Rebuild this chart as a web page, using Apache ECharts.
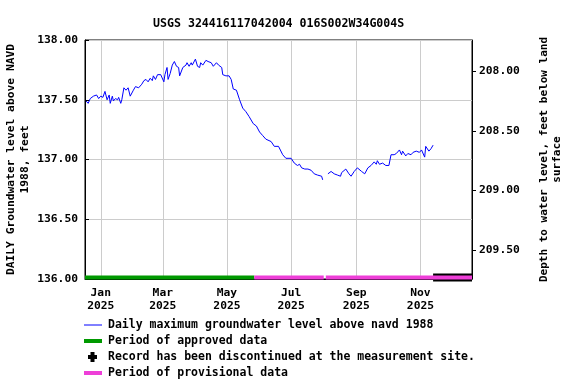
<!DOCTYPE html>
<html>
<head>
<meta charset="utf-8">
<script src="https://cdn.jsdelivr.net/npm/echarts@6.0.0/dist/echarts.min.js"></script>
<style>
  html, body { margin: 0; padding: 0; background: #fff; }
  #chart { width: 576px; height: 384px; }
</style>
</head>
<body>
<div id="chart"></div>
<script>
const FONT = 'DejaVu Sans Mono';
const titleText = 'USGS 324416117042004 016S002W34G004S';

// x range and tick labels
const xMin = '2024-12-17';
const xMax = '2025-12-20';
const monthTicks = ['2025-01-01', '2025-03-01', '2025-05-01', '2025-07-01', '2025-09-01', '2025-11-01'];
const monthLabels = ['Jan\n2025', 'Mar\n2025', 'May\n2025', 'Jul\n2025', 'Sep\n2025', 'Nov\n2025'];

// left axis: level above NAVD 1988, right axis: depth below land surface
const levelMin = 136, levelMax = 138, levelStep = 0.5;
const landSurface = 345.74; // depth = landSurface - level
const depthTicks = [208, 208.5, 209, 209.5];

// daily maximum groundwater level
const dates = [
  '2024-12-18', '2024-12-20', '2024-12-22', '2024-12-25', '2024-12-28', '2024-12-30',
  '2025-01-01', '2025-01-03', '2025-01-05', '2025-01-07', '2025-01-09', '2025-01-10', '2025-01-12', '2025-01-13', '2025-01-15',
  '2025-01-17', '2025-01-18', '2025-01-20', '2025-01-21', '2025-01-23', '2025-01-25', '2025-01-27', '2025-01-29',
  '2025-02-01', '2025-02-03', '2025-02-06', '2025-02-09', '2025-02-11', '2025-02-13', '2025-02-15', '2025-02-17',
  '2025-02-19', '2025-02-20', '2025-02-22', '2025-02-24', '2025-02-27', '2025-02-28',
  '2025-03-02', '2025-03-03', '2025-03-05', '2025-03-06', '2025-03-08', '2025-03-10', '2025-03-12', '2025-03-14',
  '2025-03-16', '2025-03-17', '2025-03-20', '2025-03-23', '2025-03-24', '2025-03-26', '2025-03-28', '2025-03-29',
  '2025-04-01', '2025-04-03', '2025-04-05', '2025-04-06', '2025-04-08', '2025-04-11', '2025-04-13', '2025-04-16',
  '2025-04-18', '2025-04-21', '2025-04-23', '2025-04-26', '2025-04-27', '2025-04-30',
  '2025-05-03', '2025-05-05', '2025-05-07', '2025-05-10', '2025-05-13', '2025-05-16', '2025-05-19', '2025-05-22', '2025-05-26', '2025-05-29',
  '2025-06-01', '2025-06-04', '2025-06-07', '2025-06-12', '2025-06-15', '2025-06-19', '2025-06-23', '2025-06-26',
  '2025-07-01', '2025-07-04', '2025-07-07', '2025-07-09', '2025-07-11', '2025-07-14', '2025-07-17', '2025-07-20',
  '2025-07-23', '2025-07-26', '2025-07-30', '2025-07-31',
  '2025-08-02', '2025-08-05', '2025-08-08', '2025-08-11', '2025-08-14', '2025-08-17', '2025-08-18', '2025-08-22',
  '2025-08-25', '2025-08-27', '2025-08-30',
  '2025-09-02', '2025-09-06', '2025-09-09', '2025-09-12', '2025-09-15', '2025-09-18', '2025-09-20', '2025-09-21',
  '2025-09-23', '2025-09-26', '2025-09-29',
  '2025-10-02', '2025-10-04', '2025-10-07', '2025-10-09', '2025-10-12', '2025-10-14', '2025-10-15', '2025-10-18',
  '2025-10-20', '2025-10-23', '2025-10-25', '2025-10-28', '2025-10-31',
  '2025-11-02', '2025-11-05', '2025-11-06', '2025-11-09', '2025-11-11', '2025-11-13'
];
const levels = [
  137.49, 137.47, 137.51, 137.53, 137.54, 137.51,
  137.53, 137.52, 137.57, 137.50, 137.54, 137.47, 137.53, 137.49, 137.51,
  137.50, 137.52, 137.47, 137.50, 137.60, 137.58, 137.60, 137.53,
  137.58, 137.61, 137.60, 137.63, 137.66, 137.67, 137.65, 137.68,
  137.66, 137.70, 137.67, 137.71, 137.71, 137.71,
  137.65, 137.71, 137.77, 137.67, 137.72, 137.79, 137.82, 137.78,
  137.77, 137.70, 137.77, 137.79, 137.81, 137.78, 137.81, 137.79,
  137.84, 137.78, 137.77, 137.81, 137.79, 137.83, 137.82, 137.81,
  137.78, 137.81, 137.79, 137.77, 137.71, 137.70,
  137.70, 137.67, 137.59, 137.58, 137.50, 137.43, 137.40, 137.36, 137.30, 137.28,
  137.23, 137.20, 137.17, 137.15, 137.11, 137.11, 137.04, 137.01,
  137.01, 136.97, 136.95, 136.96, 136.93, 136.92, 136.92, 136.91,
  136.88, 136.87, 136.86, 136.83,
  null, 136.88, 136.90, 136.88, 136.87, 136.86, 136.89, 136.92,
  136.88, 136.86, 136.90,
  136.93, 136.90, 136.88, 136.93, 136.95, 136.98, 136.96, 136.99,
  136.96, 136.97, 136.95,
  136.95, 137.04, 137.04, 137.05, 137.08, 137.04, 137.07, 137.03,
  137.05, 137.04, 137.06, 137.07, 137.06,
  137.08, 137.02, 137.11, 137.07, 137.09, 137.12
];

// data status periods along the bottom
const approvedPeriods = [['2024-12-17', '2025-05-27']];
const provisionalPeriods = [['2025-05-27', '2025-08-01'], ['2025-08-03', '2025-12-20']];
const discontinuedPeriods = [['2025-11-13', '2025-12-20']];
const barLevel = 136.0125;

const BLUE = '#0000ff';
const GREEN = '#009900';
const PINK = '#ee3fd8';

function ts(s) {
  return new Date(s + 'T00:00:00').getTime();
}

function periodData(periods) {
  const out = [];
  periods.forEach((p, i) => {
    if (i > 0) out.push([ts(p[0]), '-']);
    out.push([ts(p[0]), barLevel]);
    out.push([ts(p[1]), barLevel]);
  });
  return out;
}

function periodSeries(name, periods, color, width, z) {
  return {
    name: name,
    type: 'line',
    data: periodData(periods),
    showSymbol: false,
    symbol: 'none',
    clip: false,
    connectNulls: false,
    silent: true,
    z: z,
    lineStyle: { color: color, width: width, cap: 'butt' }
  };
}

const tickTimes = monthTicks.map(ts);
const levelData = dates.map((d, i) => [ts(d), levels[i] == null ? '-' : levels[i]]);

const textBase = { fontFamily: FONT, fontWeight: 'bold', color: '#000' };
const legendFont = 'bold 11.5px "' + FONT + '"';

const legendRows = [
  { y: 325, text: 'Daily maximum groundwater level above navd 1988' },
  { y: 341, text: 'Period of approved data' },
  { y: 357, text: 'Record has been discontinued at the measurement site.' },
  { y: 373, text: 'Period of provisional data' }
];

const chart = echarts.init(document.getElementById('chart'), null, { renderer: 'canvas' });

chart.setOption({
  animation: false,
  backgroundColor: '#fff',
  title: {
    text: titleText,
    left: 148,
    top: 13,
    textStyle: Object.assign({}, textBase, { fontSize: 11.6 })
  },
  grid: {
    left: 85,
    right: 104,
    top: 40,
    bottom: 105,
    containLabel: false,
    outerBoundsMode: 'none',
    show: true,
    borderColor: '#000',
    borderWidth: 1,
    backgroundColor: 'transparent'
  },
  xAxis: {
    // dates as millisecond numbers on a plain value axis
    type: 'value',
    min: ts(xMin),
    max: ts(xMax),
    axisLine: { lineStyle: { color: '#000', width: 1 } },
    axisTick: { show: false },
    splitLine: { show: false },
    axisLabel: {
      customValues: tickTimes,
      formatter: (v) => {
        const i = tickTimes.indexOf(+v);
        return i >= 0 ? monthLabels[i] : '';
      },
      margin: 8,
      lineHeight: 12.5,
      fontSize: 11.3,
      fontFamily: FONT,
      fontWeight: 'bold',
      color: '#000',
      hideOverlap: false
    }
  },
  yAxis: [
    {
      type: 'value',
      position: 'left',
      min: levelMin,
      max: levelMax,
      interval: levelStep,
      name: 'DAILY Groundwater level above NAVD\n1988, feet',
      nameLocation: 'middle',
      nameGap: 53,
      nameMoveOverlap: false,
      nameRotate: 90,
      nameTextStyle: Object.assign({}, textBase, { fontSize: 11.3, lineHeight: 14 }),
      axisLine: { show: true, lineStyle: { color: '#000', width: 1 } },
      axisTick: { show: true, inside: true, length: 4, lineStyle: { color: '#000' } },
      splitLine: { show: true, lineStyle: { color: '#cccccc', width: 1 } },
      axisLabel: {
        formatter: (v) => v.toFixed(2),
        margin: 7,
        fontSize: 11.3,
        fontFamily: FONT,
        fontWeight: 'bold',
        color: '#000'
      }
    },
    {
      type: 'value',
      position: 'right',
      inverse: true,
      min: landSurface - levelMax,
      max: landSurface - levelMin,
      name: 'Depth to water level, feet below land\nsurface',
      nameLocation: 'middle',
      nameGap: 66,
      nameRotate: 90,
      nameTextStyle: Object.assign({}, textBase, { fontSize: 11, lineHeight: 13 }),
      axisLine: { show: true, lineStyle: { color: '#000', width: 1 } },
      axisTick: { show: true, customValues: depthTicks, inside: false, length: 4, lineStyle: { color: '#000' } },
      splitLine: { show: false },
      axisLabel: {
        customValues: depthTicks,
        formatter: (v) => (+v).toFixed(2),
        margin: 7,
        fontSize: 11.3,
        fontFamily: FONT,
        fontWeight: 'bold',
        color: '#000'
      }
    }
  ],
  series: [
    {
      name: 'Daily maximum groundwater level above navd 1988',
      type: 'line',
      data: levelData,
      yAxisIndex: 0,
      showSymbol: false,
      symbol: 'none',
      connectNulls: false,
      z: 2,
      lineStyle: { color: BLUE, width: 1 },
      markLine: {
        z: 1,
        silent: true,
        symbol: 'none',
        label: { show: false },
        lineStyle: { color: '#cccccc', width: 1, type: 'solid' },
        emphasis: { disabled: true },
        data: tickTimes.map((t) => ({ xAxis: t }))
      }
    },
    periodSeries('Period of approved data', approvedPeriods, GREEN, 4, 3),
    periodSeries('Record has been discontinued at the measurement site.', discontinuedPeriods, '#000', 8, 4),
    periodSeries('Period of provisional data', provisionalPeriods, PINK, 4, 5)
  ],
  graphic: [
    { type: 'line', shape: { x1: 84, y1: legendRows[0].y, x2: 102, y2: legendRows[0].y }, style: { stroke: BLUE, lineWidth: 1 } },
    { type: 'line', shape: { x1: 84, y1: legendRows[1].y, x2: 102, y2: legendRows[1].y }, style: { stroke: GREEN, lineWidth: 4 } },
    { type: 'rect', shape: { x: 88, y: legendRows[2].y - 2, width: 9, height: 4 }, style: { fill: '#000' } },
    { type: 'rect', shape: { x: 90.5, y: legendRows[2].y - 5, width: 4, height: 10 }, style: { fill: '#000' } },
    { type: 'line', shape: { x1: 84, y1: legendRows[3].y, x2: 102, y2: legendRows[3].y }, style: { stroke: PINK, lineWidth: 4 } }
  ].concat(legendRows.map((r) => ({
    type: 'text',
    x: 108,
    y: r.y,
    style: { text: r.text, font: legendFont, fill: '#000', align: 'left', verticalAlign: 'middle' }
  })))
});
</script>
</body>
</html>
